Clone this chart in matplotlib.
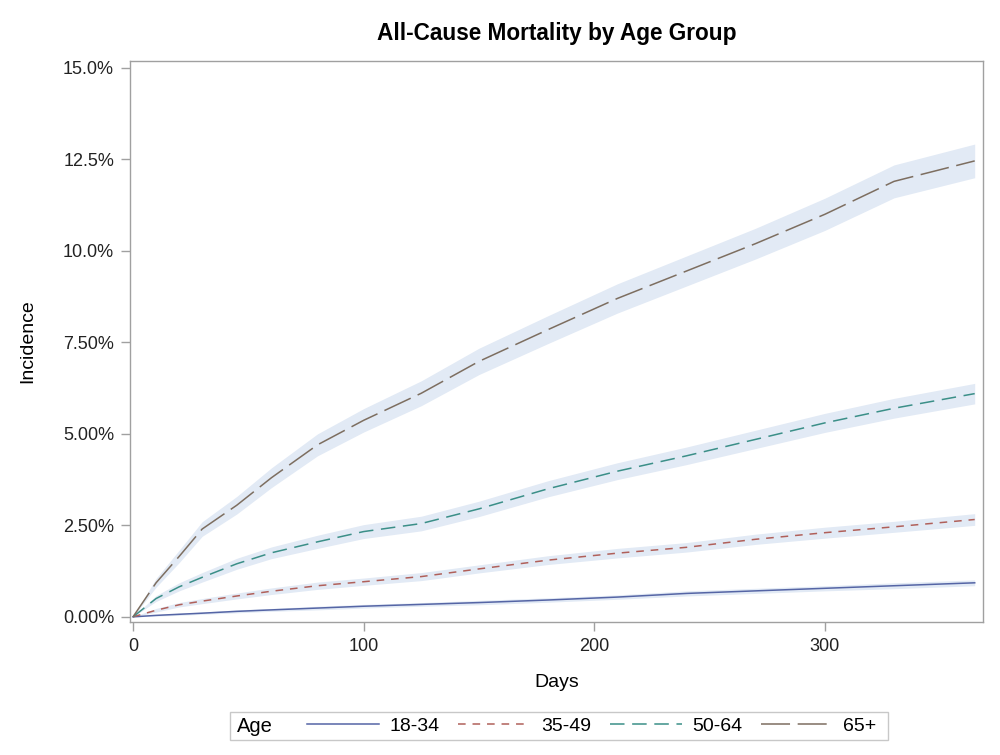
import matplotlib.pyplot as plt
from matplotlib.lines import Line2D
from matplotlib.patches import Rectangle
import numpy as np

plt.rcParams['font.family'] = ['Liberation Sans', 'DejaVu Sans']

days = [0, 10, 20, 30, 45, 60, 80, 100, 125, 150, 180, 210, 240, 270, 300, 330, 365]

groups = ['18-34', '35-49', '50-64', '65+']

# cumulative incidence (%)
inc_18_34 = [0, 0.04, 0.07, 0.10, 0.15, 0.19, 0.24, 0.29, 0.34, 0.39, 0.46, 0.54, 0.64, 0.71, 0.78, 0.85, 0.93]
inc_35_49 = [0, 0.18, 0.33, 0.43, 0.57, 0.70, 0.85, 0.96, 1.10, 1.31, 1.55, 1.74, 1.90, 2.12, 2.30, 2.46, 2.66]
inc_50_64 = [0, 0.50, 0.82, 1.08, 1.45, 1.75, 2.05, 2.33, 2.55, 2.95, 3.50, 3.98, 4.40, 4.85, 5.30, 5.70, 6.10]
inc_65 = [0, 0.93, 1.65, 2.40, 3.05, 3.80, 4.70, 5.37, 6.11, 6.98, 7.85, 8.70, 9.45, 10.20, 11.00, 11.90, 12.46]

# half width of the confidence band (%)
ci_18_34 = [0, 0.02, 0.03, 0.03, 0.04, 0.04, 0.05, 0.05, 0.05, 0.06, 0.06, 0.06, 0.07, 0.07, 0.07, 0.08, 0.08]
ci_35_49 = [0, 0.05, 0.06, 0.07, 0.08, 0.09, 0.10, 0.10, 0.11, 0.11, 0.12, 0.13, 0.13, 0.14, 0.15, 0.15, 0.16]
ci_50_64 = [0, 0.08, 0.11, 0.13, 0.15, 0.16, 0.18, 0.19, 0.20, 0.21, 0.22, 0.23, 0.24, 0.25, 0.26, 0.27, 0.28]
ci_65 = [0, 0.12, 0.17, 0.20, 0.24, 0.27, 0.30, 0.32, 0.34, 0.36, 0.38, 0.40, 0.41, 0.42, 0.44, 0.45, 0.46]

incidence = [inc_18_34, inc_35_49, inc_50_64, inc_65]
halfwidth = [ci_18_34, ci_35_49, ci_50_64, ci_65]
colors = ['#5565a5', '#b0605a', '#3b8f88', '#7d6e60']
dashes = [None, (5, 4.5), (9.5, 5), (19, 5)]

fig = plt.figure(figsize=(10, 7.55), dpi=100)
ax = fig.add_axes([0.130, 0.1762, 0.853, 0.743])

x = np.array(days)
for inc, hw in zip(incidence, halfwidth):
    inc = np.array(inc)
    hw = np.array(hw)
    ax.fill_between(x, inc - hw, inc + hw, color='#e2eaf5', lw=0, zorder=1)

handles = []
for inc, c, d, g in zip(incidence, colors, dashes, groups):
    line, = ax.plot(days, inc, color=c, lw=1.1, zorder=3)
    if d is not None:
        line.set_dashes(d)
    handles.append(line)

ax.set_xlim(-1.3, 368.6)
ax.set_ylim(-0.14, 15.19)
ax.set_xticks([0, 100, 200, 300])
ax.set_yticks([0, 2.5, 5.0, 7.5, 10.0, 12.5, 15.0])
ax.set_yticklabels(['0.00%', '2.50%', '5.00%', '7.50%', '10.0%', '12.5%', '15.0%'])
ax.tick_params(direction='out', length=6.5, width=1, color='#a0a0a0',
               labelsize=13, labelcolor='#222222', pad=5)

for s in ax.spines.values():
    s.set_color('#a0a0a0')
    s.set_linewidth(1)

ax.set_xlabel('Days', fontsize=14)
ax.set_ylabel('Incidence', fontsize=14)
ax.xaxis.set_label_coords(0.5, -0.092)
ax.yaxis.set_label_coords(-0.110, 0.5)
ax.set_title('All-Cause Mortality by Age Group', fontsize=16.3, fontweight='bold', pad=15)

# legend along the bottom, with the "Age" caption on its left
fig.patches.append(Rectangle((0.230, 1 - 740 / 755), 0.658, 28 / 755,
                             transform=fig.transFigure, fill=False,
                             edgecolor='#c8c8c8', lw=1))
fig.text(0.237, 1 - 726 / 755, 'Age', fontsize=14.5, va='center', ha='left')
leg_handles = [Line2D([], [], color=h.get_color(), lw=1.1) for h in handles]
for lh, d in zip(leg_handles, dashes):
    if d is not None:
        lh.set_dashes(d)
fig.legend(leg_handles, groups, ncol=4, loc='center',
           bbox_to_anchor=(0.592, 1 - 726 / 755), frameon=False,
           fontsize=14, handlelength=3.7, handletextpad=0.55, columnspacing=0.95)

plt.savefig('out.png', dpi=100)
